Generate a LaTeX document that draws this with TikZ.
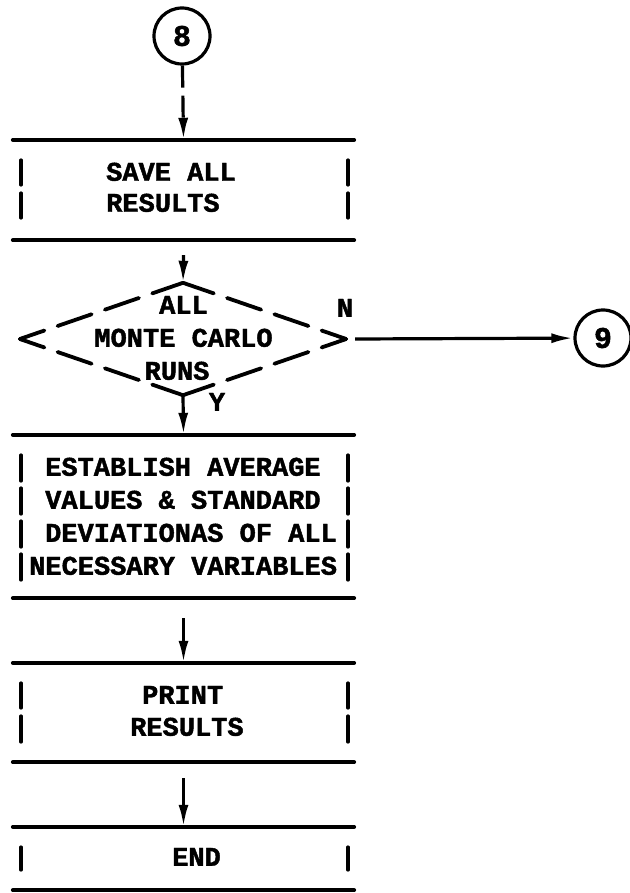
\documentclass[tikz,border=0pt]{standalone}
\usepackage{fontspec}
\newfontfamily\tw{Liberation Mono}[BoldFeatures={FakeBold=1.6}]
\usetikzlibrary{arrows.meta,shapes.geometric}
\begin{document}
\begin{tikzpicture}[x=1pt,y=-1pt,
  ln/.style={line width=3.8pt, line cap=round},
  vbar/.style={line width=3.2pt, line cap=round},
  arr/.style={line width=3.2pt, -{Latex[length=22pt,width=10pt]}},
  txt/.style={font=\tw\bfseries\fontsize{27}{33}\selectfont, inner sep=0pt, text height=15.5pt, text depth=0pt, anchor=west},
  ctxt/.style={txt, anchor=center},
  conn/.style={circle, draw, line width=3.2pt, minimum size=56pt, inner sep=0pt, font=\tw\bfseries\fontsize{30}{30}\selectfont},
  boxn/.style={rectangle, draw=none, minimum width=341pt, inner sep=0pt},
  dedge/.style={line width=3.8pt, line cap=round, dash pattern=on 26pt off 14pt on 36pt off 14pt on 36pt off 14pt on 60pt},
]
\useasboundingbox (0,0) rectangle (629,893);

% connectors (circles)
\node[conn] (c8) at (182,36) {8};
\node[conn] (c9) at (603,338) {9};

% boxes (top and bottom rules)
\node[boxn, minimum height=100pt] (b1) at (183.5,190) {};
\node[boxn, minimum height=163pt] (b2) at (183.5,516.5) {};
\node[boxn, minimum height=99pt]  (b3) at (183.5,712.5) {};
\node[boxn, minimum height=63pt]  (b4) at (183.5,858.5) {};
\foreach \b in {b1,b2,b3,b4}{
  \draw[ln] (\b.north west) -- (\b.north east);
  \draw[ln] (\b.south west) -- (\b.south east);
}

% side bars
\foreach \ya/\yb in {160/185,193/218, 455/481,488/514,521/547,554/580, 683/708,716/742, 847/870}{
  \draw[vbar] (21,\ya) -- (21,\yb);
  \draw[vbar] (348,\ya) -- (348,\yb);
}

% box texts
\node[txt] (t1a) at (106,173) {SAVE ALL};
\node[txt] (t1b) at (106,204) {RESULTS};
\node[txt] (t2a) at (45,468) {ESTABLISH AVERAGE};
\node[txt] (t2b) at (45,501) {VALUES \& STANDARD};
\node[txt] (t2c) at (45,534) {DEVIATIONAS OF ALL};
\node[txt] (t2d) at (29,567) {NECESSARY VARIABLES};
\node[txt] (t3a) at (142,696) {PRINT};
\node[txt] (t3b) at (130,728) {RESULTS};
\node[txt] (t4a) at (172,858) {END};

% decision
\node[diamond, draw=none, minimum width=326pt, minimum height=112pt, inner sep=0pt] (dec) at (183,339) {};
\draw[dedge] (dec.west) -- (dec.north);
\draw[dedge] (dec.west) -- (dec.south);
\draw[dedge] (dec.east) -- (dec.north);
\draw[dedge] (dec.east) -- (dec.south);
\node[ctxt] (d1) at (183.5,306) {ALL};
\node[ctxt] (d2) at (183.5,339) {MONTE CARLO};
\node[ctxt] (d3) at (177,372) {RUNS};
\node[ctxt] (nl) at (345,309) {N};
\node[ctxt] (yl) at (217,403) {Y};

% flow
\draw[arr, dash pattern=on 22pt off 8pt] (c8) -- (b1.north);
\draw[arr] ([yshift=-15pt]b1.south) -- (dec.north);
\draw[arr] ([xshift=9pt]dec.east) -- (c9);
\draw[arr] (dec.south) -- (b2.north);
\draw[arr] ([yshift=-20pt]b2.south) -- (b3.north);
\draw[arr] ([yshift=-16pt]b3.south) -- (b4.north);
\end{tikzpicture}
\end{document}
